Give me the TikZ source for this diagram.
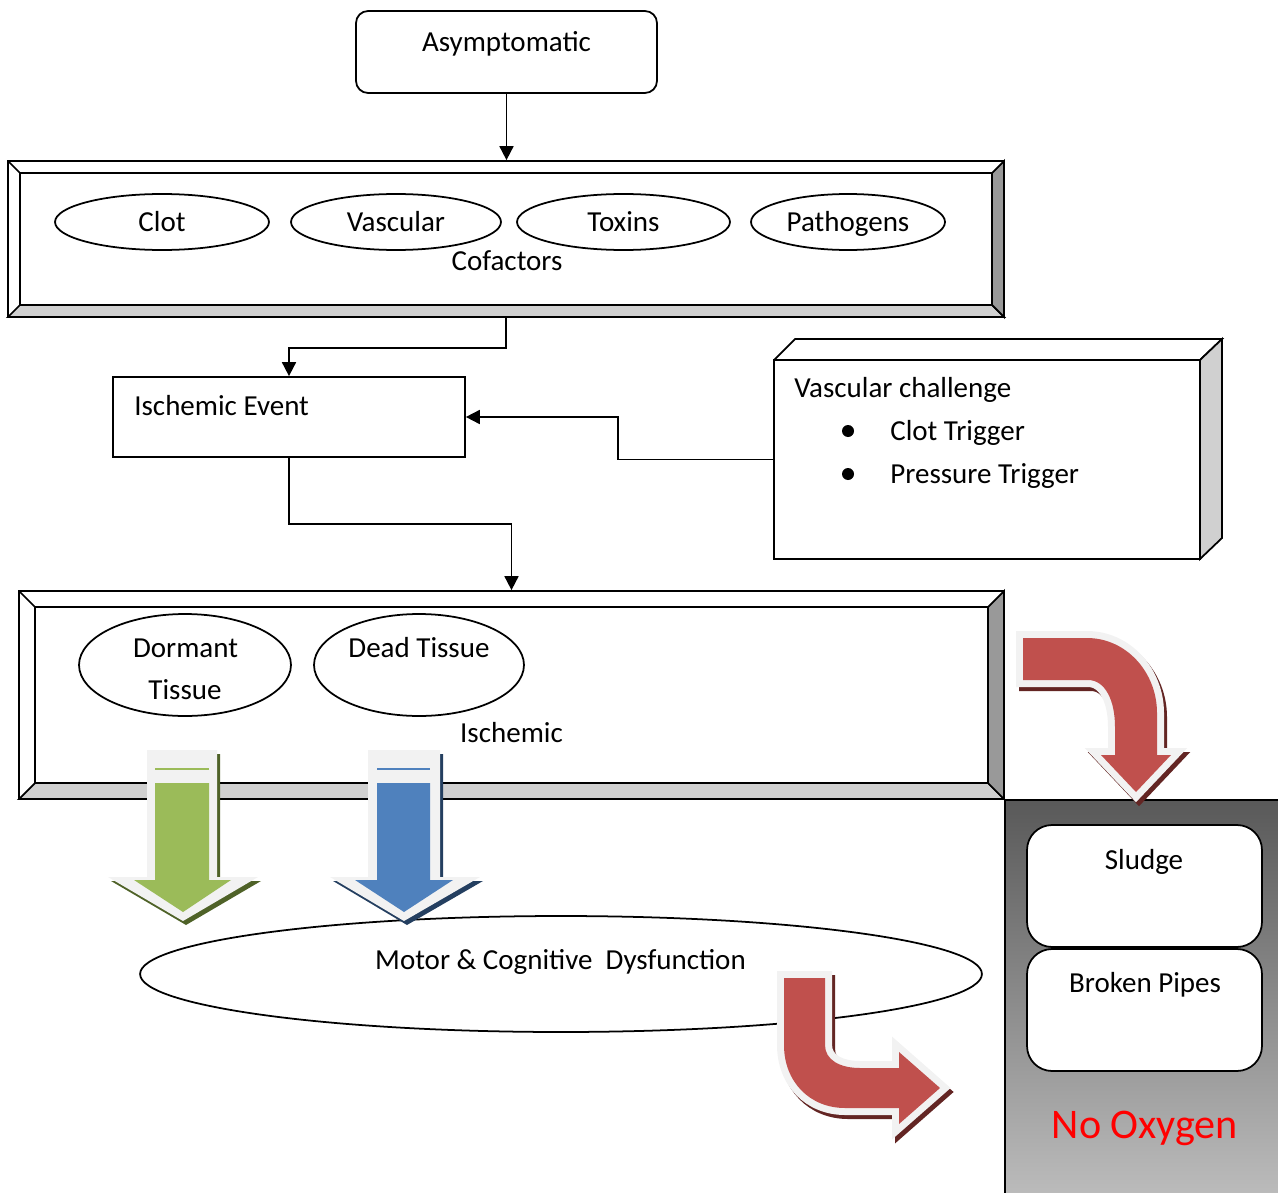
\documentclass[tikz,border=0pt]{standalone}
\usepackage{fontspec}
\setmainfont{Carlito}
\usetikzlibrary{shapes.geometric,arrows.meta}
\definecolor{bevellight}{HTML}{D0D0D0}
\definecolor{beveldark}{HTML}{999999}
\definecolor{panetop}{HTML}{595959}
\definecolor{panemid}{HTML}{999999}
\definecolor{panebot}{HTML}{BBBBBB}
\definecolor{arrowred}{HTML}{C0504D}
\definecolor{shadered}{HTML}{632523}
\definecolor{arrowgreen}{HTML}{9BBB59}
\definecolor{shadegreen}{HTML}{4F6228}
\definecolor{arrowblue}{HTML}{4F81BD}
\definecolor{shadeblue}{HTML}{243F60}
\definecolor{rim}{HTML}{F2F2F2}
\begin{document}
\begin{tikzpicture}[x=0.02cm, y=-0.02cm,
  txt/.style={font=\fontsize{16.5}{24}\selectfont, inner sep=0, anchor=base},
  box/.style={draw, line width=1pt, inner sep=0},
  oval/.style={ellipse, draw, line width=1pt, inner sep=0, font=\fontsize{16.5}{24}\selectfont, text height=0.38cm, text depth=0pt},
  conn/.style={line width=1pt, -{Triangle[length=0.28cm, width=0.28cm]}},
  edge/.style={line width=1pt},
  rimline/.style={line width=0.28cm, line join=miter}]
\useasboundingbox (0,0) rectangle (1278,1193);
\shade[top color=panetop, middle color=panemid, bottom color=panebot] (1005,800) rectangle (1278,1193);
\draw[edge] (1278,800) -- (1005,800) -- (1005,1193);
\node[box, rounded corners=0.24cm, minimum width=6.02cm, minimum height=1.64cm] (asym) at (506.5,52){};
\node[txt] (asymtxt) at (506.5,52){Asymptomatic};
\node[box, minimum width=19.92cm, minimum height=3.12cm] (cof) at (506,239){};
\filldraw[edge, fill=bevellight] (8,317) -- (20,305) -- (992,305) -- (1004,317) -- cycle;
\filldraw[edge, fill=beveldark] (1004,161) -- (992,173) -- (992,305) -- (1004,317) -- cycle;
\draw[edge] (8,161) -- (20,173) -- (992,173);
\draw[edge] (20,173) -- (20,305);
\node[oval, minimum width=4.28cm, minimum height=1.12cm] (clot) at (162,222){Clot};
\node[oval, minimum width=4.2cm, minimum height=1.12cm] (vasc) at (396,222){Vascular};
\node[oval, minimum width=4.26cm, minimum height=1.12cm] (toxins) at (623.5,222){Toxins};
\node[oval, minimum width=3.88cm, minimum height=1.12cm] (patho) at (848,222){Pathogens};
\node[txt] (coftxt) at (507,270){Cofactors};
\node[box, minimum width=7.04cm, minimum height=1.6cm] (event) at (289,417){};
\node[txt, anchor=base west] (eventtxt) at (134,415){Ischemic Event};
\node[box, minimum width=8.52cm, minimum height=3.98cm] (challenge) at (987,459.5){};
\draw[edge] (774,360) -- (795,339) -- (1222,339) -- (1200,360);
\filldraw[edge, fill=bevellight] (1200,360) -- (1222,339) -- (1222,538) -- (1200,559) -- cycle;
\node[txt, anchor=base west] (challengetxt) at (794,397){Vascular challenge};
\node[circle, fill, inner sep=0, minimum size=0.24cm] (bullet1) at (848,431){};
\node[txt, anchor=base west] (clottrig) at (890,440){Clot Trigger};
\node[circle, fill, inner sep=0, minimum size=0.24cm] (bullet2) at (848,474){};
\node[txt, anchor=base west] (presstrig) at (890,483){Pressure Trigger};
\node[box, minimum width=19.7cm, minimum height=4.16cm] (isch) at (511.5,695){};
\filldraw[edge, fill=bevellight] (19,799) -- (35,783) -- (988,783) -- (1004,799) -- cycle;
\filldraw[edge, fill=beveldark] (1004,591) -- (988,607) -- (988,783) -- (1004,799) -- cycle;
\draw[edge] (19,591) -- (35,607) -- (988,607);
\draw[edge] (35,607) -- (35,783);
\draw[conn] (asym.south) -- (asym.south |- cof.north);
\draw[conn] (cof.south) -- ++(0,30) -| (event.north);
\draw[conn] (challenge.west) -- ++(-155,0) |- (event.east);
\draw[conn] (event.south) -- ++(0,66) -| (isch.north);
\node[oval, minimum width=4.24cm, minimum height=2.04cm] (dormant) at (185,665){};
\node[txt] (dormanttxt) at (185.5,657){Dormant};
\node[txt] (tissuetxt) at (185,699){Tissue};
\node[oval, minimum width=4.2cm, minimum height=2.04cm] (dead) at (419,665){};
\node[txt] (deadtxt) at (419,657){Dead Tissue};
\node[txt] (ischtxt) at (511.5,742){Ischemic};
\node[oval, minimum width=16.84cm, minimum height=2.32cm] (motor) at (561,974){};
\node[txt] (motortxt) at (560.5,969){Motor \& Cognitive\ \ Dysfunction};
\fill[shadegreen, shift={(3,4)}] (147,750) -- (217,750) -- (217,877) -- (258,877) -- (183,921) -- (108,877) -- (147,877) -- cycle;
\fill[rim] (147,750) -- (217,750) -- (217,877) -- (258,877) -- (183,921) -- (108,877) -- (147,877) -- cycle;
\fill[arrowgreen] (155,783) -- (209,783) -- (209,880) -- (231,880) -- (183,912) -- (134,880) -- (155,880) -- cycle;
\fill[arrowgreen] (155,768) rectangle (209,770);
\fill[shadeblue, shift={(3,4)}] (368,750) -- (440,750) -- (440,877) -- (480,877) -- (404,921) -- (330,877) -- (368,877) -- cycle;
\fill[rim] (368,750) -- (440,750) -- (440,877) -- (480,877) -- (404,921) -- (330,877) -- (368,877) -- cycle;
\fill[arrowblue] (377,783) -- (430,783) -- (430,880) -- (453,880) -- (404,912) -- (355,880) -- (377,880) -- cycle;
\fill[arrowblue] (377,768) rectangle (430,770);
\filldraw[shadered, rimline, shift={(3,4)}] (1023,638) -- (1087,638) .. controls (1126,638) and (1157,672) .. (1157,713) -- (1157,755) -- (1171,755) -- (1136,792) -- (1101,755) -- (1115,755) -- (1115,727) .. controls (1115,700) and (1105,680) .. (1088,680) -- (1023,680) -- cycle;
\filldraw[rim, rimline] (1023,638) -- (1087,638) .. controls (1126,638) and (1157,672) .. (1157,713) -- (1157,755) -- (1171,755) -- (1136,792) -- (1101,755) -- (1115,755) -- (1115,727) .. controls (1115,700) and (1105,680) .. (1088,680) -- (1023,680) -- cycle;
\fill[arrowred] (1023,638) -- (1087,638) .. controls (1126,638) and (1157,672) .. (1157,713) -- (1157,755) -- (1171,755) -- (1136,792) -- (1101,755) -- (1115,755) -- (1115,727) .. controls (1115,700) and (1105,680) .. (1088,680) -- (1023,680) -- cycle;
\filldraw[shadered, rimline, shift={(3,4)}] (784,978) -- (825,978) -- (825,1045) .. controls (825,1060) and (840,1068) .. (860,1068) -- (899,1068) -- (899,1052) -- (940,1088) -- (899,1124) -- (899,1108) -- (845,1108) .. controls (810,1108) and (784,1082) .. (784,1045) -- cycle;
\filldraw[rim, rimline] (784,978) -- (825,978) -- (825,1045) .. controls (825,1060) and (840,1068) .. (860,1068) -- (899,1068) -- (899,1052) -- (940,1088) -- (899,1124) -- (899,1108) -- (845,1108) .. controls (810,1108) and (784,1082) .. (784,1045) -- cycle;
\fill[arrowred] (784,978) -- (825,978) -- (825,1045) .. controls (825,1060) and (840,1068) .. (860,1068) -- (899,1068) -- (899,1052) -- (940,1088) -- (899,1124) -- (899,1108) -- (845,1108) .. controls (810,1108) and (784,1082) .. (784,1045) -- cycle;
\node[box, rounded corners=0.5cm, fill=white, minimum width=4.7cm, minimum height=2.44cm] (sludge) at (1144.5,886){};
\node[txt] (sludgetxt) at (1144,869){Sludge};
\node[box, rounded corners=0.5cm, fill=white, minimum width=4.7cm, minimum height=2.44cm] (pipes) at (1144.5,1010){};
\node[txt] (pipestxt) at (1145,992){Broken Pipes};
\node[txt, font=\fontsize{24}{28}\selectfont, text=red] (oxygentxt) at (1145,1138){No Oxygen};
\end{tikzpicture}
\end{document}
